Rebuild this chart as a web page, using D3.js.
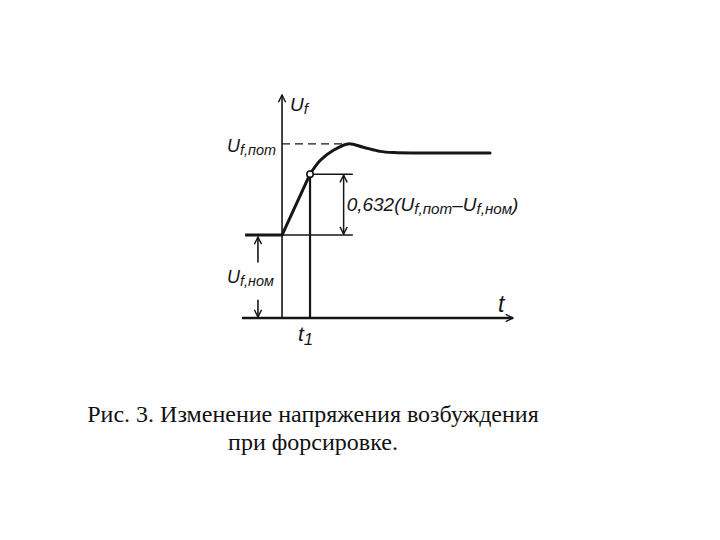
<!DOCTYPE html>
<html><head><meta charset="utf-8">
<script src="https://cdn.jsdelivr.net/npm/d3@7"></script>
<style>body{margin:0;background:#fff}svg{display:block}</style>
</head><body>
<script>
// Data (arbitrary units: U_nom = 1)
const timeValues = [-1.32, 0, 1.0, 1.36, 1.82, 2.36, 2.9, 3.5, 4.0, 4.9, 7.43];
const voltValues = [1.0, 1.0, 1.735, 1.90, 2.02, 2.10, 2.06, 2.01, 1.995, 1.99, 1.99];
const levelNom = 1.0;      // U_f,ном
const levelPot = 2.10;     // U_f,пот
const t1Time = 1.0;        // t1
const t1Volt = 1.735;      // 0.632 point
const axisTimeRange = [-1.43, 8.25];
const axisVoltRange = [0, 2.69];
const captionLines = ["Рис. 3. Изменение напряжения возбуждения", "при форсировке."];

const W = 720, H = 540, ink = "#161616";
const svg = d3.select("body").append("svg").attr("width", W).attr("height", H);
const x = d3.scaleLinear().domain(axisTimeRange).range([242, 513]);
const y = d3.scaleLinear().domain(axisVoltRange).range([318, 95]);

// arrow markers
const defs = svg.append("defs");
function marker(id, orient) {
  defs.append("marker").attr("id", id).attr("viewBox", "0 0 10 10")
    .attr("refX", 9).attr("refY", 5).attr("markerWidth", 9).attr("markerHeight", 9)
    .attr("markerUnits", "userSpaceOnUse").attr("orient", orient)
    .append("path").attr("d", "M1,1 L9,5 L1,9").attr("fill", "none")
    .attr("stroke", ink).attr("stroke-width", 1.6);
}
marker("arr", "auto");
marker("arr2", "auto-start-reverse");

const g = svg.append("g");
// axes
g.append("line").attr("x1", x(axisTimeRange[0])).attr("x2", x(axisTimeRange[1]))
  .attr("y1", y(0)).attr("y2", y(0)).attr("stroke", ink).attr("stroke-width", 2.4)
  .attr("marker-end", "url(#arr)");
g.append("line").attr("x1", x(0)).attr("x2", x(0)).attr("y1", y(0)).attr("y2", y(axisVoltRange[1]))
  .attr("stroke", ink).attr("stroke-width", 1.6).attr("marker-end", "url(#arr)");

// dashed level U_pot
g.append("line").attr("x1", x(0)).attr("x2", x(2.25)).attr("y1", y(levelPot)).attr("y2", y(levelPot))
  .attr("stroke", ink).attr("stroke-width", 1.4).attr("stroke-dasharray", "8,5");

// helper lines for 0.632 dimension
const dimEnd = 2.53;
g.append("line").attr("x1", x(t1Time)).attr("x2", x(dimEnd)).attr("y1", y(t1Volt)).attr("y2", y(t1Volt))
  .attr("stroke", ink).attr("stroke-width", 1.5);
g.append("line").attr("x1", x(0)).attr("x2", x(dimEnd)).attr("y1", y(levelNom)).attr("y2", y(levelNom))
  .attr("stroke", ink).attr("stroke-width", 1.5);
g.append("line").attr("x1", x(2.2)).attr("x2", x(2.2)).attr("y1", y(t1Volt) + 1).attr("y2", y(levelNom) - 1)
  .attr("stroke", ink).attr("stroke-width", 1.5)
  .attr("marker-start", "url(#arr2)").attr("marker-end", "url(#arr)");

// vertical line at t1
g.append("line").attr("x1", x(t1Time)).attr("x2", x(t1Time)).attr("y1", y(t1Volt)).attr("y2", y(0))
  .attr("stroke", ink).attr("stroke-width", 2.2);

// U_nom dimension arrows
const xa = x(-0.86);
g.append("line").attr("x1", xa).attr("x2", xa).attr("y1", y(0.67)).attr("y2", y(levelNom) + 2)
  .attr("stroke", ink).attr("stroke-width", 1.6).attr("marker-end", "url(#arr)");
g.append("line").attr("x1", xa).attr("x2", xa).attr("y1", y(0.22)).attr("y2", y(0) - 1)
  .attr("stroke", ink).attr("stroke-width", 1.6).attr("marker-end", "url(#arr)");

// response curve
const pts = timeValues.map((t, i) => [t, voltValues[i]]);
const lin = d3.line().x(d => x(d[0])).y(d => y(d[1]));
g.append("path").attr("d", lin(pts.slice(0, 3))).attr("fill", "none")
  .attr("stroke", ink).attr("stroke-width", 3).attr("stroke-linejoin", "round");
g.append("path").attr("d", lin.curve(d3.curveCatmullRom)(pts.slice(2))).attr("fill", "none")
  .attr("stroke", ink).attr("stroke-width", 3).attr("stroke-linecap", "round");

// point at t1
g.append("circle").attr("cx", x(t1Time)).attr("cy", y(t1Volt)).attr("r", 3.2)
  .attr("fill", "#fff").attr("stroke", ink).attr("stroke-width", 1.6);

// labels
const font = "'Liberation Sans', Arial, sans-serif";
function label(px, py, parts, size, anchor) {
  const t = g.append("text").attr("x", px).attr("y", py).attr("font-family", font)
    .attr("font-style", "italic").attr("font-size", size).attr("fill", ink)
    .attr("text-anchor", anchor || "start");
  parts.forEach(p => {
    const s = t.append("tspan").text(p.s);
    if (p.sub) s.attr("font-size", size * 0.8).attr("baseline-shift", "-22%");
  });
  return t;
}
label(x(0) + 8, y(axisVoltRange[1]) + 16, [{s: "U"}, {s: "f", sub: true}], 19);
label(227, y(levelPot) + 8, [{s: "U"}, {s: "f,пот", sub: true}], 18);
label(227, 283, [{s: "U"}, {s: "f,ном", sub: true}], 18);
label(x(2.2) + 3, 211, [{s: "0,632(U"}, {s: "f,пот", sub: true}, {s: "–U"}, {s: "f,ном", sub: true}, {s: ")"}], 19);
label(498, 312, [{s: "t"}], 23);
label(x(t1Time) - 12, 341, [{s: "t"}, {s: "1", sub: true}], 21);

// caption
const cap = svg.append("text").attr("font-family", "'Liberation Serif', 'Times New Roman', serif")
  .attr("font-size", 24).attr("fill", "#111").attr("text-anchor", "middle");
captionLines.forEach((l, i) => cap.append("tspan").attr("x", 313).attr("y", 422 + i * 28).text(l));
</script>
</body></html>
